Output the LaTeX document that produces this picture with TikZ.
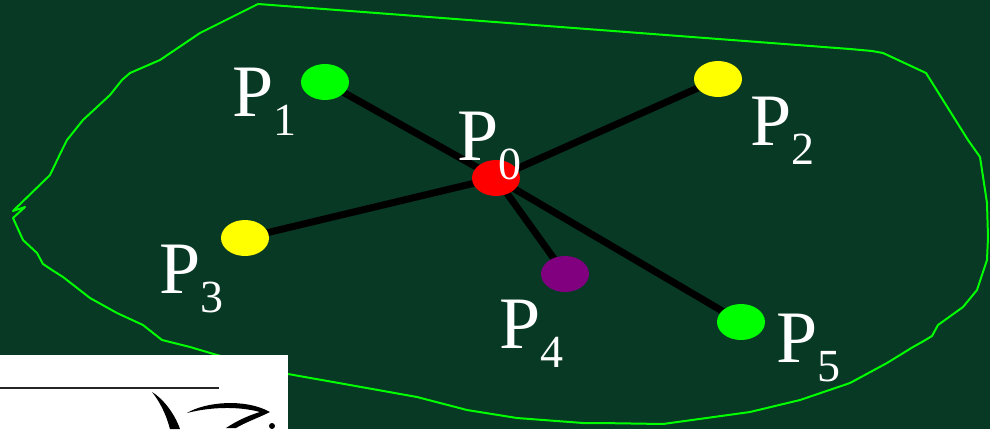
\documentclass[tikz,border=0pt]{standalone}
\usepackage{fontspec}
\setmainfont{Liberation Serif}
\usetikzlibrary{shapes.geometric}
\definecolor{bg}{RGB}{7,57,36}
\definecolor{blob}{RGB}{0,255,0}
\definecolor{ptgreen}{RGB}{0,255,0}
\definecolor{ptyellow}{RGB}{255,255,0}
\definecolor{ptred}{RGB}{255,0,0}
\definecolor{ptpurple}{RGB}{128,0,128}
\pgfdeclarelayer{background}
\pgfdeclarelayer{spokes}
\pgfsetlayers{background,spokes,main}
\newcommand{\lab}[1]{P\raisebox{-19pt}{\fontsize{46}{46}\selectfont #1}}
\begin{document}
\begin{tikzpicture}[x=1pt,y=-1pt,
  dot/.style={ellipse, minimum width=48pt, minimum height=36pt, inner sep=0pt, draw=none},
  spoke/.style={line width=7pt, black},
  lbl/.style={anchor=base west, text=white, inner sep=0pt, font=\fontsize{74}{74}\selectfont},
  outline/.style={draw=blob, line width=2pt, line join=round}]
\useasboundingbox (0,0) rectangle (990,429);
\begin{pgfonlayer}{background}
\fill[bg] (0,0) rectangle (990,429);
\draw[outline] (258,4) -- (850,49) -- (872,51) -- (883,53) -- (926,73) -- (968,140) -- (980,157)
  -- (987,203) -- (988,237) -- (987,260) -- (977,290) -- (963,307) -- (938,325) -- (932,336)
  -- (922,342) -- (913,347) -- (887,363) -- (850,383) -- (800,400) -- (750,412) -- (663,424)
  -- (600,423) -- (583,423) -- (517,418) -- (467,410) -- (417,397) -- (350,385) -- (288,374)
  -- (217,355) -- (190,347) -- (162,340) -- (143,325) -- (117,313) -- (90,298) -- (63,277)
  -- (52,270) -- (43,264) -- (37,253) -- (23,240) -- (13,218) -- (25,207) -- (13,211)
  -- (50,175) -- (62,150) -- (67,140) -- (83,120) -- (110,95) -- (122,80) -- (130,73)
  -- (160,60) -- (200,33) -- cycle;
\end{pgfonlayer}
% points
\node[dot, fill=ptred]    (p0) at (496,178) {};
\node[dot, fill=ptgreen]  (p1) at (325,82)  {};
\node[dot, fill=ptyellow] (p2) at (718,79)  {};
\node[dot, fill=ptyellow] (p3) at (245,238) {};
\node[dot, fill=ptpurple] (p4) at (565,274) {};
\node[dot, fill=ptgreen]  (p5) at (741,322) {};
\begin{pgfonlayer}{spokes}
\draw[spoke] (p0.center) -- (p1.center);
\draw[spoke] (p0.center) -- (p2.center);
\draw[spoke] (p0.center) -- (p3.center);
\draw[spoke] (p0.center) -- (p4.center);
\draw[spoke] (p0.center) -- (p5.center);
\end{pgfonlayer}
% labels
\node[lbl] (l0) at (457,160) {\lab{0}};
\node[lbl] (l1) at (232,116) {\lab{1}};
\node[lbl] (l2) at (750,145) {\lab{2}};
\node[lbl] (l3) at (159,293) {\lab{3}};
\node[lbl] (l4) at (499,348) {\lab{4}};
\node[lbl] (l5) at (776,362) {\lab{5}};
% inset fragment
\fill[white] (0,355) rectangle (288,429);
\draw[line width=2.5pt, black!85] (0,388) -- (219,388);
\fill[black] (152,392) .. controls (162,398) and (174,412) .. (180,429) -- (170,429)
  .. controls (166,414) and (160,402) .. (152,392) -- cycle;
\fill[black] (187,413) .. controls (205,402) and (245,398) .. (270,412)
  .. controls (258,418) and (246,422) .. (236,428) -- (226,428)
  .. controls (238,420) and (250,415) .. (260,412)
  .. controls (238,406) and (210,407) .. (187,413) -- cycle;
\fill[black] (272,426) circle (3pt);
\end{tikzpicture}
\end{document}
